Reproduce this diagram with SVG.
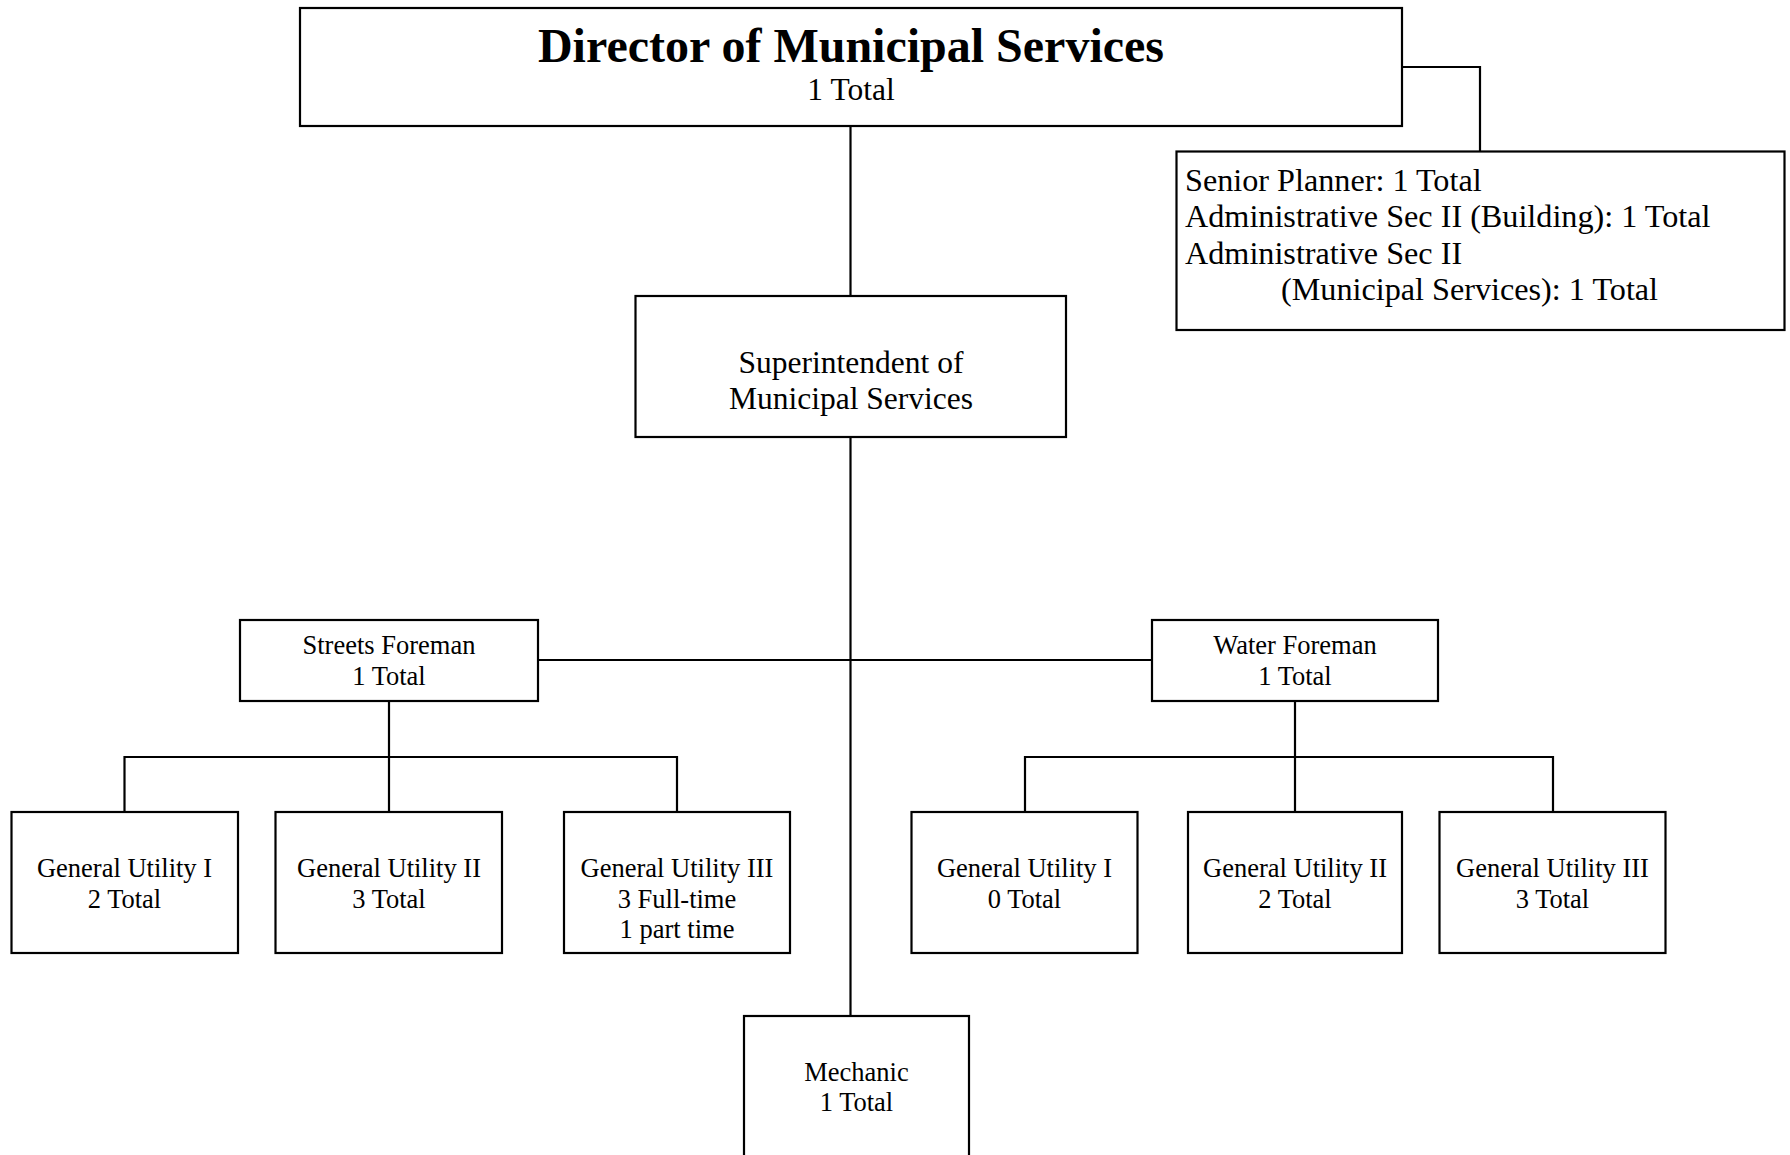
<svg xmlns="http://www.w3.org/2000/svg" width="1790" height="1155" viewBox="0 0 1790 1155">
<style>
.box{fill:#fff;stroke:#000;stroke-width:2.2}
.ln{fill:none;stroke:#000;stroke-width:2.2}
text{font-family:"Liberation Serif","Times New Roman",serif;fill:#000}
.c{text-anchor:middle}
.t{font-size:48px;font-weight:bold}
.m{font-size:31.5px}
.p{font-size:32.2px}
.s{font-size:26.5px}
</style>
<rect width="1790" height="1155" fill="#fff"/>
<g id="connectors">
<path class="ln" d="M850.5 126V296"/>
<path class="ln" d="M1402 67H1480V151.5"/>
<path class="ln" d="M850.5 437V1016"/>
<path class="ln" d="M538 660H1152"/>
<path class="ln" d="M389 701V757M124.5 812V757H677V812M389 757V812"/>
<path class="ln" d="M1295 701V757M1025 812V757H1553V812M1295 757V812"/>
</g>
<g id="director">
<rect class="box" x="300" y="8" width="1102" height="118"/>
<text class="c t" x="851" y="61.5">Director of Municipal Services</text>
<text class="c m" x="851" y="100">1 Total</text>
</g>
<g id="staff">
<rect class="box" x="1176.5" y="151.5" width="608" height="178.5"/>
<text class="p" x="1185" y="190.5">Senior Planner: 1 Total</text>
<text class="p" x="1185" y="227">Administrative Sec II (Building): 1 Total</text>
<text class="p" x="1185" y="263.5">Administrative Sec II</text>
<text class="p" x="1281" y="300">(Municipal Services): 1 Total</text>
</g>
<g id="superintendent">
<rect class="box" x="635.5" y="296" width="430.5" height="141"/>
<text class="c m" x="851" y="373">Superintendent of</text>
<text class="c m" x="851" y="409">Municipal Services</text>
</g>
<g id="streets-foreman">
<rect class="box" x="240" y="620" width="298" height="81"/>
<text class="c s" x="389" y="654">Streets Foreman</text>
<text class="c s" x="389" y="685">1 Total</text>
</g>
<g id="water-foreman">
<rect class="box" x="1152" y="620" width="286" height="81"/>
<text class="c s" x="1295" y="654">Water Foreman</text>
<text class="c s" x="1295" y="685">1 Total</text>
</g>
<g id="streets-gu1">
<rect class="box" x="11.5" y="812" width="226.5" height="141"/>
<text class="c s" x="124.5" y="877">General Utility I</text>
<text class="c s" x="124.5" y="907.5">2 Total</text>
</g>
<g id="streets-gu2">
<rect class="box" x="275.5" y="812" width="226.5" height="141"/>
<text class="c s" x="389" y="877">General Utility II</text>
<text class="c s" x="389" y="907.5">3 Total</text>
</g>
<g id="streets-gu3">
<rect class="box" x="564" y="812" width="226" height="141"/>
<text class="c s" x="677" y="877">General Utility III</text>
<text class="c s" x="677" y="907.5">3 Full-time</text>
<text class="c s" x="677" y="938">1 part time</text>
</g>
<g id="water-gu1">
<rect class="box" x="911.5" y="812" width="226" height="141"/>
<text class="c s" x="1024.5" y="877">General Utility I</text>
<text class="c s" x="1024.5" y="907.5">0 Total</text>
</g>
<g id="water-gu2">
<rect class="box" x="1188" y="812" width="214" height="141"/>
<text class="c s" x="1295" y="877">General Utility II</text>
<text class="c s" x="1295" y="907.5">2 Total</text>
</g>
<g id="water-gu3">
<rect class="box" x="1439.5" y="812" width="226" height="141"/>
<text class="c s" x="1552.5" y="877">General Utility III</text>
<text class="c s" x="1552.5" y="907.5">3 Total</text>
</g>
<g id="mechanic">
<rect class="box" x="744" y="1016" width="225" height="160"/>
<text class="c s" x="856.5" y="1081">Mechanic</text>
<text class="c s" x="856.5" y="1111">1 Total</text>
</g>
</svg>
